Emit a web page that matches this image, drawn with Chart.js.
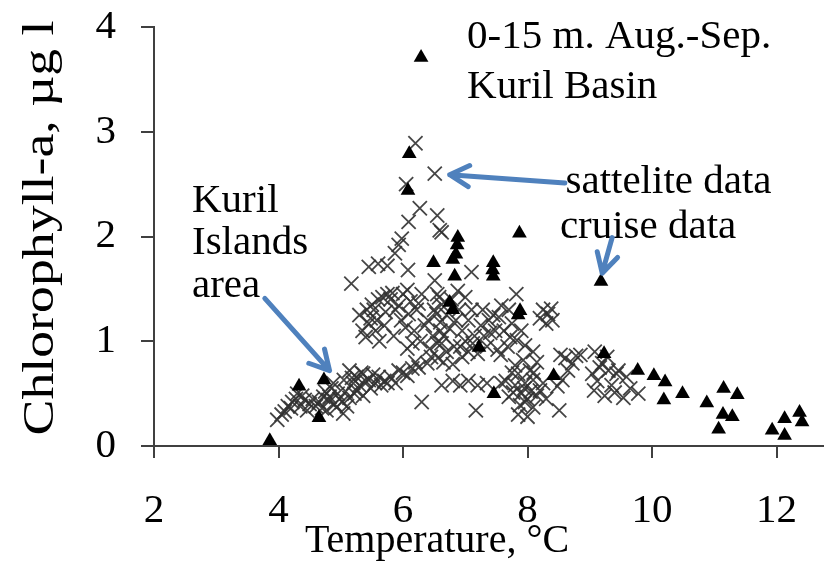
<!DOCTYPE html>
<html>
<head>
<meta charset="utf-8">
<script src="https://cdn.jsdelivr.net/npm/chart.js@4/dist/chart.umd.min.js"></script>
<style>
  html, body { margin: 0; padding: 0; background: #fff; }
  #wrap { width: 835px; height: 561px; }
</style>
</head>
<body>
<div id="wrap"><canvas id="c" width="835" height="561"></canvas></div>
<script>
// Chlorophyll-a vs temperature, 0-15 m, Aug.-Sep., Kuril Basin.
const xTicks = [2, 4, 6, 8, 10, 12];
const yTicks = [0, 1, 2, 3, 4];

// cruise data (black triangles)
const cruiseX = [3.86, 4.33, 4.73, 4.65, 6.29, 6.10, 6.08, 6.49, 6.88, 6.87, 6.85, 6.80, 6.83, 7.87,
  7.45, 7.44, 7.45, 9.18, 6.75, 6.80, 7.88, 7.85, 7.22, 7.46, 8.42, 9.23, 9.77, 10.03, 10.21, 10.19,
  10.49, 10.88, 11.15, 11.37, 11.14, 11.29, 11.07, 11.93, 12.13, 12.13, 12.37, 12.41];
const cruiseY = [0.05, 0.57, 0.63, 0.27, 3.71, 2.79, 2.44, 1.75, 1.99, 1.92, 1.83, 1.78, 1.62, 2.03,
  1.75, 1.68, 1.62, 1.57, 1.37, 1.30, 1.29, 1.25, 0.94, 0.50, 0.67, 0.88, 0.72, 0.67, 0.61, 0.44,
  0.50, 0.41, 0.55, 0.49, 0.30, 0.28, 0.16, 0.15, 0.26, 0.10, 0.32, 0.23];

// satellite data (grey crosses)
const satX = [
  3.98, 4.05, 4.10, 4.15, 4.20, 4.22, 4.28, 4.30, 4.35, 4.38, 4.42, 4.46, 4.50, 4.55, 4.60, 4.65,
  4.70, 4.72, 4.75, 4.77, 4.80, 4.82, 4.85, 4.88, 4.90, 4.93, 4.95, 4.98, 5.02, 5.04, 5.05, 5.08,
  5.10, 5.14, 5.14, 5.18, 5.20, 5.22, 5.25, 5.25, 5.30, 5.33, 5.36, 5.36, 5.40, 5.45, 5.48, 5.52,
  5.55, 5.61, 5.65, 5.70, 5.75, 5.80, 5.88, 5.93, 6.00, 6.07, 6.15, 6.20, 6.25, 6.30, 6.39, 6.45,
  6.56,
  5.17, 5.30, 5.35, 5.40, 5.42, 5.45, 5.48, 5.50, 5.53, 5.56, 5.58, 5.60, 5.62, 5.67, 5.70, 5.72,
  5.75, 5.80, 5.83, 5.85, 5.88, 5.93, 5.97, 6.00, 6.04, 6.07, 6.09, 6.12, 6.15, 6.07, 6.18, 6.22,
  6.25, 6.28, 6.30, 6.35, 6.40, 6.43, 6.48, 6.50, 6.54, 6.58, 6.60, 6.62,
  5.45, 5.60, 5.75, 5.87, 5.93, 5.98, 6.08, 6.09, 6.27, 6.55, 6.59, 6.62, 6.20, 6.51, 6.05, 6.51,
  7.10,
  6.55, 6.62, 6.70, 6.60, 6.75, 6.65, 6.85, 6.90, 6.95, 7.00, 6.82, 6.70, 7.05, 7.10, 7.15, 7.20,
  6.95, 6.55, 7.30, 7.25, 7.35, 7.40, 7.45, 7.52, 6.78, 6.88, 7.00, 7.12, 6.65, 6.80, 6.92, 7.05,
  7.28, 7.38, 7.48, 7.58, 7.54, 7.62, 7.70, 7.72, 7.75, 7.82, 7.83, 7.57, 7.96, 8.09, 7.68, 7.90,
  6.62, 6.80, 6.92, 7.05, 7.20, 7.35, 7.58, 7.17,
  7.80, 7.93, 7.85, 8.04, 7.96, 8.09, 8.20, 7.96, 8.09, 7.88, 8.51, 7.77, 7.75, 7.80, 7.90, 8.00,
  8.15, 7.70, 7.65, 8.10, 8.25, 8.30, 7.85, 8.00, 7.95, 8.15, 8.05,
  8.33, 8.38, 8.30, 8.20, 8.25, 8.40,
  8.53, 8.61, 8.85, 8.72, 8.56, 8.48, 8.65, 8.78,
  9.08, 9.16, 9.30, 9.43, 9.07, 9.24, 9.40, 9.04, 9.54, 9.78, 9.59, 9.46, 9.20, 9.12, 9.35, 9.65,
  9.28];
const satY = [
  0.25, 0.30, 0.33, 0.38, 0.36, 0.42, 0.45, 0.50, 0.38, 0.48, 0.44, 0.34, 0.40, 0.45, 0.38, 0.42,
  0.36, 0.47, 0.52, 0.34, 0.44, 0.47, 0.55, 0.60, 0.40, 0.37, 0.50, 0.45, 0.42, 0.31, 0.63, 0.52,
  0.38, 0.46, 0.72, 0.65, 0.60, 0.50, 0.53, 0.66, 0.58, 0.70, 0.48, 0.69, 0.62, 0.63, 0.55, 0.68,
  0.60, 0.66, 0.58, 0.62, 0.60, 0.66, 0.60, 0.72, 0.70, 0.67, 0.74, 0.80, 0.75, 0.42, 0.79, 0.85,
  0.84,
  1.55, 1.25, 1.10, 1.04, 1.30, 1.17, 1.22, 1.35, 1.30, 1.10, 1.20, 1.40, 1.00, 1.42, 1.15, 1.28,
  1.45, 1.40, 1.46, 1.05, 1.30, 1.34, 1.20, 1.45, 1.13, 1.49, 1.26, 1.38, 0.98, 0.93, 1.10, 1.30,
  1.36, 1.00, 1.45, 1.15, 1.20, 0.93, 1.05, 1.30, 1.26, 1.42, 1.18, 0.98,
  1.71, 1.74, 1.72, 1.84, 1.92, 1.98, 1.68, 2.14, 2.27, 2.20, 2.06, 2.04, 2.89, 2.60, 2.50, 1.58,
  1.66,
  1.45, 1.35, 1.25, 1.10, 1.12, 1.05, 1.20, 1.30, 1.10, 1.00, 0.95, 0.90, 1.20, 1.30, 1.05, 0.88,
  0.85, 0.98, 1.05, 1.15, 0.95, 1.08, 1.25, 0.92, 1.40, 1.48, 1.42, 0.98, 0.80, 0.78, 0.95, 0.90,
  1.30, 1.20, 1.10, 1.34, 1.23, 1.10, 1.30, 1.04, 1.17, 1.45, 1.01, 0.87, 0.96, 0.90, 0.95, 1.10,
  0.58, 0.62, 0.58, 0.62, 0.58, 0.60, 0.60, 0.34,
  0.77, 0.82, 0.69, 0.72, 0.60, 0.63, 0.53, 0.42, 0.37, 0.39, 0.34, 0.51, 0.70, 0.58, 0.50, 0.45,
  0.48, 0.47, 0.62, 0.70, 0.60, 0.45, 0.30, 0.28, 0.55, 0.80, 0.52,
  1.26, 1.31, 1.17, 1.22, 1.30, 1.20,
  0.87, 0.84, 0.87, 0.79, 0.63, 0.57, 0.72, 0.86,
  0.90, 0.75, 0.72, 0.69, 0.53, 0.48, 0.51, 0.69, 0.46, 0.50, 0.66, 0.72, 0.79, 0.62, 0.58, 0.55,
  0.85];

// text and arrows placed in data units
const notes = [
  { text: "0-15 m. Aug.-Sep.", x: 7.03, y: 3.80 },
  { text: "Kuril Basin", x: 7.03, y: 3.32 },
  { text: "sattelite data", x: 8.61, y: 2.42 },
  { text: "cruise data", x: 8.52, y: 1.99 },
  { text: "Kuril", x: 2.61, y: 2.23 },
  { text: "Islands", x: 2.61, y: 1.83 },
  { text: "area", x: 2.61, y: 1.42 },
];
const arrows = [
  { from: [8.60, 2.51], to: [6.75, 2.59] },
  { from: [9.36, 1.99], to: [9.20, 1.65] },
  { from: [3.78, 1.41], to: [4.82, 0.72] },
];

const serif = "'Liberation Serif', 'Times New Roman', serif";
const pts = (xs, ys) => xs.map((x, i) => ({ x, y: ys[i] }));

const notesPlugin = {
  id: "notes",
  afterDraw(chart) {
    const { ctx, scales: { x, y } } = chart;
    ctx.save();
    ctx.fillStyle = "#000";
    ctx.font = "41px " + serif;
    ctx.textBaseline = "alphabetic";
    ctx.textAlign = "left";
    for (const n of notes) ctx.fillText(n.text, x.getPixelForValue(n.x), y.getPixelForValue(n.y));

    // axis titles
    ctx.textAlign = "center";
    ctx.font = "40px " + serif;
    ctx.fillText("Temperature, °C", 437, 552);
    ctx.save();
    ctx.font = "45px " + serif;
    const title = "Chlorophyll-a, µg l";
    const stretch = 415 / ctx.measureText(title).width;
    ctx.translate(53, 228);
    ctx.rotate(-Math.PI / 2);
    ctx.scale(stretch, 1);
    ctx.fillText(title, 0, 0);
    ctx.restore();

    ctx.strokeStyle = "#4f81bd";
    ctx.lineWidth = 5;
    ctx.lineCap = "round";
    ctx.lineJoin = "round";
    for (const a of arrows) {
      const x0 = x.getPixelForValue(a.from[0]), y0 = y.getPixelForValue(a.from[1]);
      const x1 = x.getPixelForValue(a.to[0]), y1 = y.getPixelForValue(a.to[1]);
      const ang = Math.atan2(y0 - y1, x0 - x1);
      const head = 22, spread = 0.5;
      ctx.beginPath();
      ctx.moveTo(x0, y0);
      ctx.lineTo(x1, y1);
      ctx.moveTo(x1 + head * Math.cos(ang - spread), y1 + head * Math.sin(ang - spread));
      ctx.lineTo(x1, y1);
      ctx.lineTo(x1 + head * Math.cos(ang + spread), y1 + head * Math.sin(ang + spread));
      ctx.stroke();
    }
    ctx.restore();
  },
};

const axisGrid = { drawOnChartArea: false, color: "#404040", lineWidth: 2 };
const tickFont = { family: "'Liberation Serif'", size: 41 };

new Chart(document.getElementById("c"), {
  type: "scatter",
  data: {
    datasets: [
      {
        label: "cruise data",
        data: pts(cruiseX, cruiseY),
        pointStyle: "triangle",
        pointRadius: 8.5,
        backgroundColor: "#000",
        borderColor: "#000",
        borderWidth: 0,
      },
      {
        label: "sattelite data",
        data: pts(satX, satY),
        pointStyle: "crossRot",
        pointRadius: 10,
        borderColor: "rgba(50,50,50,0.9)",
        borderWidth: 1.8,
      },
    ],
  },
  options: {
    responsive: false,
    animation: false,
    events: [],
    layout: { padding: { top: 27, right: 0, left: 0, bottom: 0 } },
    plugins: { legend: { display: false }, tooltip: { enabled: false } },
    scales: {
      x: {
        type: "linear",
        min: 2,
        max: 12.75,
        afterFit(s) { s.height = 115; s.paddingLeft = 0; s.paddingRight = 0; },
        afterBuildTicks(s) { s.ticks = xTicks.map((v) => ({ value: v })); },
        grid: { ...axisGrid, tickLength: 12 },
        border: { color: "#404040", width: 2 },
        ticks: { font: tickFont, color: "#000", padding: 29, maxRotation: 0 },
      },
      y: {
        type: "linear",
        min: 0,
        max: 4,
        afterFit(s) { s.width = 154; s.paddingTop = 0; s.paddingBottom = 0; },
        afterBuildTicks(s) { s.ticks = yTicks.map((v) => ({ value: v })); },
        grid: { ...axisGrid, tickLength: 13 },
        border: { color: "#404040", width: 2 },
        ticks: { font: tickFont, color: "#000", padding: 25 },
      },
    },
  },
  plugins: [notesPlugin],
});
</script>
</body>
</html>
